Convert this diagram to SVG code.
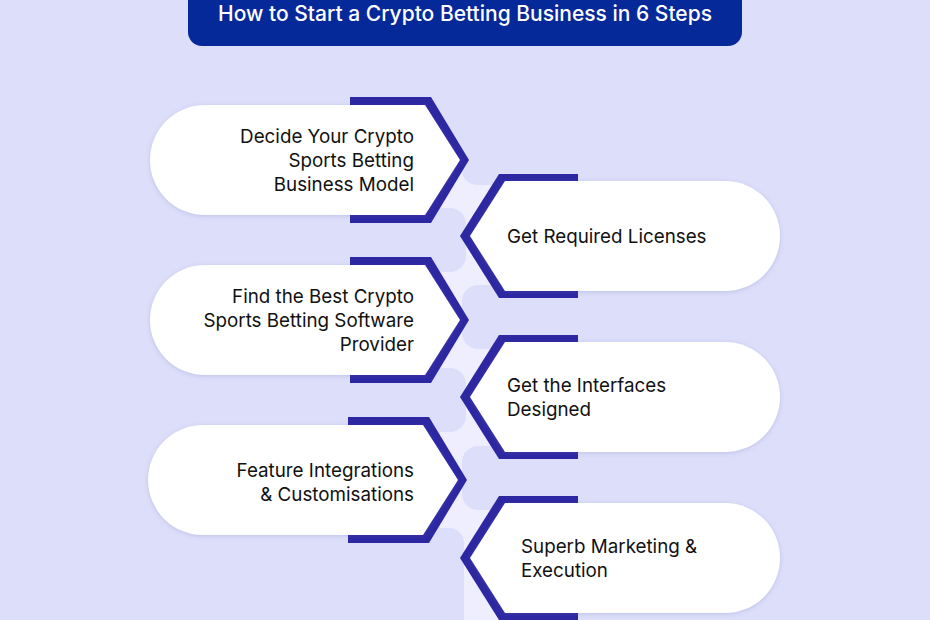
<svg xmlns="http://www.w3.org/2000/svg" width="930" height="620" viewBox="0 0 930 620">
<style>
.bg{fill:#dcdefa}
.band{fill:#efeefe}
.tab{fill:#dcdefa}
.rim{fill:#2d27a2}
.card{fill:#ffffff;filter:url(#sh)}
.t{font-family:Inter,"Noto Sans","Liberation Sans",sans-serif;font-size:18.8px;fill:#111111}
.l{text-anchor:end}
.title{font-family:Inter,"Noto Sans","Liberation Sans",sans-serif;font-size:21px;font-weight:500;fill:#ffffff;text-anchor:middle}
</style>
<defs>
<filter id="sh" x="-10%" y="-20%" width="120%" height="140%">
<feDropShadow dx="0" dy="1" stdDeviation="2" flood-color="#6a6ab0" flood-opacity="0.25"/>
</filter>
</defs>
<rect class="bg" x="0" y="0" width="930" height="620"/>
<g id="title">
<rect x="188" y="-20" width="554" height="66" rx="14" fill="#06299a"/>
<text class="title" x="465" y="21">How to Start a Crypto Betting Business in 6 Steps</text>
</g>
<g id="connectors">
<rect class="band" x="440" y="165" width="75" height="455"/>
<rect class="tab" x="462" y="90" width="120" height="95" rx="15"/>
<rect class="tab" x="380" y="208" width="86" height="64" rx="16"/>
<rect class="tab" x="380" y="368" width="86" height="64" rx="16"/>
<rect class="tab" x="462" y="285" width="120" height="64" rx="16"/>
<rect class="tab" x="462" y="446" width="120" height="64" rx="16"/>
<rect class="tab" x="380" y="528" width="84" height="120" rx="15"/>
</g>
<g id="step1">
<path class="rim" d="M350,97 L431,97 L469,160 L431,223 L350,223 Z"/>
<path class="card" d="M205,105 L425,105 L460,160 L425,215 L205,215 A55,55 0 0 1 205,105 Z"/>
<text class="t l" x="414" y="143">Decide Your Crypto</text>
<text class="t l" x="414" y="167">Sports Betting</text>
<text class="t l" x="414" y="191">Business Model</text>
</g>
<g id="step2">
<path class="rim" d="M578,174 L499,174 L460,236 L499,298 L578,298 Z"/>
<path class="card" d="M725,181 L505,181 L470,236 L505,291 L725,291 A55,55 0 0 0 725,181 Z"/>
<text class="t" x="507" y="243">Get Required Licenses</text>
</g>
<g id="step3">
<path class="rim" d="M350,257 L431,257 L469,320 L431,383 L350,383 Z"/>
<path class="card" d="M205,265 L425,265 L460,320 L425,375 L205,375 A55,55 0 0 1 205,265 Z"/>
<text class="t l" x="414" y="303">Find the Best Crypto</text>
<text class="t l" x="414" y="327">Sports Betting Software</text>
<text class="t l" x="414" y="351">Provider</text>
</g>
<g id="step4">
<path class="rim" d="M578,335 L499,335 L460,397 L499,459 L578,459 Z"/>
<path class="card" d="M725,342 L505,342 L470,397 L505,452 L725,452 A55,55 0 0 0 725,342 Z"/>
<text class="t" x="507" y="392">Get the Interfaces</text>
<text class="t" x="507" y="416">Designed</text>
</g>
<g id="step5">
<path class="rim" d="M348,417 L429,417 L467,480 L429,543 L348,543 Z"/>
<path class="card" d="M203,425 L423,425 L458,480 L423,535 L203,535 A55,55 0 0 1 203,425 Z"/>
<text class="t l" x="414" y="477">Feature Integrations</text>
<text class="t l" x="414" y="501">&amp; Customisations</text>
</g>
<g id="step6">
<path class="rim" d="M578,496 L499,496 L460,558 L499,620 L578,620 Z"/>
<path class="card" d="M725,503 L505,503 L470,558 L505,613 L725,613 A55,55 0 0 0 725,503 Z"/>
<text class="t" x="521" y="553">Superb Marketing &amp;</text>
<text class="t" x="521" y="577">Execution</text>
</g>
</svg>
